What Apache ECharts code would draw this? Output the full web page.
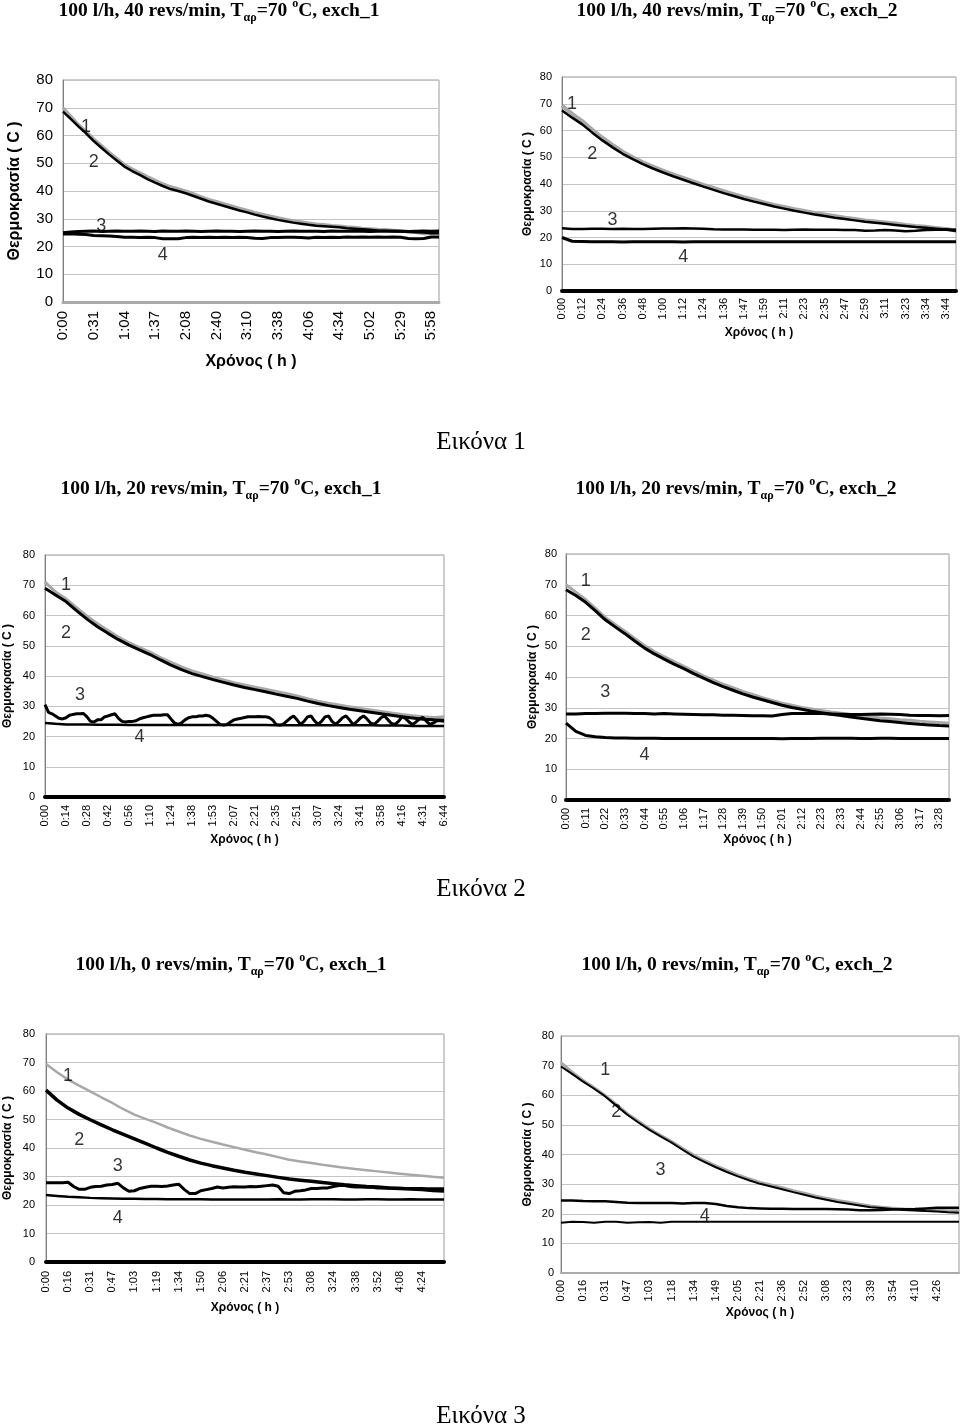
<!DOCTYPE html>
<html><head><meta charset="utf-8">
<script src="https://cdn.jsdelivr.net/npm/echarts@6/dist/echarts.min.js"></script>
<style>html,body{margin:0;padding:0;background:#fff}#c{width:960px;height:1427px}</style>
</head><body><div id="c"></div>
<script>
// ---------- DATA ----------
const ticks1 = ['0:00','0:31','1:04','1:37','2:08','2:40','3:10','3:38','4:06','4:34','5:02','5:29','5:58'];
const c1s1 = [70.0,67.0,64.0,61.5,58.8,56.4,54.0,51.8,49.5,48.0,46.6,45.2,43.9,42.6,41.6,40.8,40.0,39.0,38.0,37.0,36.2,35.4,34.6,33.8,33.1,32.3,31.6,31.0,30.4,29.8,29.3,28.9,28.5,28.1,27.9,27.6,27.4,27.1,26.9,26.6,26.4,26.2,26.1,25.9,25.7,25.4,25.0,24.6,24.6,24.8];
const c1s2 = [68.6,66.0,63.3,60.8,58.0,55.6,53.2,51.0,48.8,47.2,45.8,44.3,43.0,41.8,40.7,40.0,39.2,38.2,37.2,36.2,35.4,34.6,33.8,33.0,32.3,31.5,30.8,30.2,29.6,29.1,28.6,28.2,27.8,27.5,27.3,27.1,26.9,26.6,26.4,26.2,26.0,25.8,25.7,25.5,25.4,25.2,25.1,25.0,24.8,24.8];
const c1s3 = [25.0,25.2,25.4,25.5,25.6,25.4,25.5,25.6,25.5,25.5,25.6,25.5,25.4,25.6,25.5,25.5,25.6,25.5,25.4,25.5,25.6,25.5,25.5,25.4,25.5,25.6,25.5,25.5,25.4,25.5,25.6,25.5,25.5,25.5,25.4,25.6,25.5,25.5,25.6,25.5,25.4,25.5,25.5,25.6,25.5,25.4,25.5,25.6,25.5,25.6];
const c1s4 = [24.5,24.6,24.4,24.3,24.0,23.9,23.8,23.6,23.3,23.3,23.2,23.3,23.2,22.8,22.8,22.8,23.2,23.3,23.2,23.3,23.2,23.3,23.2,23.3,23.2,23.0,22.9,23.2,23.2,23.3,23.3,23.2,23.1,23.3,23.2,23.3,23.2,23.4,23.3,23.4,23.3,23.4,23.3,23.4,23.3,22.9,22.8,22.9,23.4,23.4];

const ticks2 = ['0:00','0:12','0:24','0:36','0:48','1:00','1:12','1:24','1:36','1:47','1:59','2:11','2:23','2:35','2:47','2:59','3:11','3:23','3:34','3:44'];
const c2s1 = [69.3,66.2,63.5,60.3,57.3,54.6,52.1,50.0,48.1,46.5,45.0,43.6,42.3,41.0,39.7,38.5,37.3,36.2,35.1,34.1,33.1,32.2,31.4,30.6,29.9,29.2,28.6,28.0,27.4,26.9,26.4,26.0,25.6,25.2,24.7,24.3,24.0,23.6,23.2,22.6];
const c2s2 = [67.5,64.8,62.3,59.2,56.3,53.7,51.3,49.3,47.4,45.8,44.3,42.9,41.6,40.3,39.0,37.8,36.6,35.5,34.4,33.4,32.5,31.6,30.8,30.0,29.3,28.6,28.0,27.4,26.9,26.4,25.9,25.5,25.1,24.7,24.3,23.9,23.6,23.3,23.0,22.4];
const c2s3 = [23.5,23.2,23.2,23.3,23.3,23.2,23.3,23.2,23.2,23.3,23.4,23.4,23.5,23.4,23.3,23.1,23.0,23.0,23.0,22.9,22.9,22.9,22.8,22.9,23.0,22.9,22.9,22.9,22.8,22.8,22.5,22.6,22.8,22.6,22.3,22.5,22.8,22.9,23.0,22.9];
const c2s4 = [20.0,18.6,18.5,18.4,18.4,18.4,18.3,18.4,18.4,18.4,18.4,18.4,18.3,18.4,18.4,18.4,18.4,18.4,18.4,18.4,18.4,18.4,18.4,18.4,18.4,18.4,18.4,18.4,18.4,18.4,18.4,18.4,18.4,18.4,18.4,18.4,18.4,18.4,18.4,18.4];

const ticks3 = ['0:00','0:14','0:28','0:42','0:56','1:10','1:24','1:38','1:53','2:07','2:21','2:35','2:51','3:07','3:24','3:41','3:58','4:16','4:31','6:44'];
const c3s1 = [71.0,67.8,65.5,62.6,59.8,57.3,55.0,52.9,51.0,49.4,47.9,46.1,44.5,43.0,41.7,40.7,39.6,38.7,37.8,37.0,36.3,35.6,34.9,34.2,33.4,32.5,31.7,31.0,30.4,29.8,29.3,28.8,28.3,27.8,27.3,26.9,26.5,26.3,26.5];
const c3s2 = [69.0,66.8,64.6,61.6,58.8,56.3,54.1,52.0,50.2,48.6,47.1,45.3,43.6,42.1,40.8,39.8,38.8,37.9,37.0,36.2,35.5,34.8,34.0,33.3,32.6,31.7,30.9,30.2,29.6,29.0,28.5,28.0,27.5,27.0,26.5,26.1,25.7,25.5,25.4];
const c3s3 = [30.5,28.0,27.5,26.8,26.0,25.8,26.2,27.0,27.3,27.5,
  27.5,27.6,26.5,25.0,24.8,25.5,25.5,26.5,26.8,27.2,
  27.5,26.0,25.0,24.8,25.0,25.0,25.2,25.8,26.2,26.5,
  26.8,27.0,27.0,27.0,27.2,27.2,25.8,24.5,24.0,24.5,
  25.5,26.2,26.5,26.5,26.8,26.8,27.0,26.8,26.0,25.0,
  24.0,23.8,24.0,24.8,25.5,25.8,26.0,26.3,26.5,26.5,
  26.5,26.6,26.5,26.5,26.3,25.5,24.0,23.8,24.0,25.0,
  26.0,26.8,25.5,24.0,25.0,26.5,26.8,25.2,24.0,25.0,
  26.5,26.8,25.0,24.0,25.0,26.2,26.8,25.5,24.0,24.8,
  26.0,26.8,25.8,24.5,24.0,25.0,26.2,26.8,25.5,24.3,
  24.0,25.0,26.5,26.0,24.8,24.0,24.8,25.8,26.3,25.0,
  24.0,24.5,25.2,25.2,25.0];
const c3s4 = [24.5,24.2,24.0,24.0,24.0,23.9,23.9,23.9,23.8,23.8,23.8,23.8,23.8,23.8,23.8,23.8,23.8,23.8,23.8,23.8,23.8,23.8,23.7,23.7,23.7,23.7,23.7,23.7,23.7,23.7,23.7,23.7,23.6,23.6,23.6,23.5,23.5,23.5,23.5];

const ticks4 = ['0:00','0:11','0:22','0:33','0:44','0:55','1:06','1:17','1:28','1:39','1:50','2:01','2:12','2:23','2:33','2:44','2:55','3:06','3:17','3:28'];
const c4s1 = [70.0,67.6,65.2,62.3,59.4,57.1,54.9,52.5,50.2,48.3,46.6,45.0,43.5,41.9,40.4,39.0,37.7,36.5,35.3,34.3,33.3,32.4,31.5,30.8,30.1,29.6,29.1,28.6,28.2,27.8,27.4,27.1,26.7,26.4,26.1,25.9,25.6,25.4,25.2,25.0];
const c4s2 = [68.4,66.5,64.3,61.5,58.6,56.3,54.1,51.7,49.4,47.5,45.8,44.2,42.7,41.1,39.6,38.2,36.9,35.7,34.5,33.5,32.6,31.7,30.8,30.1,29.5,28.9,28.4,27.9,27.5,27.0,26.6,26.2,25.8,25.5,25.2,24.9,24.6,24.4,24.2,24.1];
const c4s3 = [28.0,28.0,28.1,28.1,28.2,28.2,28.2,28.1,28.1,28.0,28.1,28.0,27.9,27.8,27.7,27.7,27.6,27.6,27.5,27.4,27.4,27.3,27.8,28.1,28.1,28.2,28.1,28.0,27.9,27.8,27.8,27.9,28.0,27.9,27.8,27.6,27.5,27.5,27.4,27.5];
const c4s4 = [25.0,22.3,21.0,20.6,20.3,20.2,20.2,20.1,20.1,20.1,20.0,20.0,20.0,20.0,20.0,20.0,20.0,20.0,20.0,20.0,20.0,20.0,19.9,20.0,20.0,20.0,20.1,20.1,20.1,20.1,20.0,20.0,20.1,20.1,20.0,20.0,20.0,20.0,20.0,20.0];

const ticks5 = ['0:00','0:16','0:31','0:47','1:03','1:19','1:34','1:50','2:06','2:21','2:37','2:53','3:08','3:24','3:38','3:52','4:08','4:24'];
const c5s1 = [69.5,66.6,64.0,61.9,59.9,57.8,55.8,53.6,51.7,50.2,48.8,47.2,45.8,44.4,43.2,42.2,41.2,40.3,39.4,38.5,37.7,36.8,35.9,35.3,34.7,34.1,33.6,33.1,32.6,32.2,31.8,31.4,31.0,30.6,30.3,29.9,29.6];
const c5s2 = [60.3,56.8,54.0,51.8,49.9,48.1,46.4,44.8,43.2,41.6,40.0,38.5,37.1,35.8,34.7,33.8,33.0,32.2,31.5,30.9,30.3,29.7,29.1,28.7,28.3,27.9,27.5,27.1,26.8,26.5,26.3,26.0,25.8,25.6,25.4,25.1,24.9];
const c5s3 = [27.8,27.8,27.8,27.8,28.0,26.5,25.5,25.5,26.2,26.5,
  26.6,27.0,27.2,27.6,26.0,24.8,25.0,25.8,26.2,26.6,
  26.6,26.5,26.7,27.0,27.3,25.5,24.0,24.0,25.0,25.4,
  25.8,26.3,26.0,26.2,26.4,26.3,26.3,26.5,26.4,26.6,
  26.8,27.0,26.6,24.3,24.0,24.8,25.0,25.3,25.8,25.8,
  26.0,26.0,26.5,26.8,26.8,26.5,26.3,26.3,26.2,26.2,
  26.0,26.0,26.0,25.9,25.9,25.8,25.8,25.8,25.8,25.7,
  25.7,25.7,25.7];
const c5s4 = [23.5,23.2,22.9,22.7,22.5,22.4,22.3,22.2,22.2,22.1,22.1,22.0,22.0,22.0,22.0,21.9,21.9,21.9,21.9,21.9,21.9,22.0,21.9,21.9,22.0,22.0,22.0,21.9,21.9,22.0,22.0,21.9,21.9,22.0,21.9,21.9,21.9];

const ticks6 = ['0:00','0:16','0:31','0:47','1:03','1:18','1:34','1:49','2:05','2:21','2:36','2:52','3:08','3:23','3:39','3:54','4:10','4:26'];
const c6s1 = [71.0,67.8,65.0,62.5,59.9,56.9,53.8,51.2,48.7,46.5,44.4,42.0,39.8,37.9,36.2,34.6,33.1,31.8,30.6,29.7,28.8,27.8,26.9,26.0,25.2,24.5,23.9,23.2,22.6,22.2,21.9,21.6,21.4,21.3,21.2,21.0,21.0];
const c6s2 = [69.7,67.2,64.6,62.2,59.6,56.5,53.4,50.8,48.3,46.1,44.0,41.6,39.3,37.4,35.7,34.1,32.6,31.3,30.1,29.2,28.3,27.3,26.4,25.5,24.7,24.0,23.4,22.8,22.2,21.9,21.6,21.3,21.1,20.9,20.8,20.5,20.3];
const c6s3 = [24.5,24.5,24.3,24.2,24.2,24.0,23.7,23.6,23.6,23.6,23.6,23.5,23.6,23.6,23.3,22.6,22.2,21.9,21.8,21.7,21.7,21.6,21.6,21.6,21.6,21.5,21.4,21.2,21.2,21.3,21.4,21.5,21.6,21.8,22.0,22.0,22.0];
const c6s4 = [17.0,17.3,17.2,17.0,17.3,17.3,17.0,17.1,17.2,17.0,17.3,17.3,17.3,17.3,17.3,17.3,17.3,17.3,17.3,17.3,17.3,17.3,17.3,17.3,17.3,17.3,17.3,17.3,17.3,17.3,17.3,17.3,17.3,17.3,17.3,17.3,17.3];

const yTicks = [0,10,20,30,40,50,60,70,80];
const seriesNames = ['1','2','3','4'];

// ---------- HELPERS ----------
function toMin(s){const p=s.split(':').map(Number);return p[0]*60+p[1];}
function fmt(t){return Math.floor(t/60)+':'+String(t%60).padStart(2,'0');}
function buildCats(ticks,k,extra){
  const out=[];
  for(let i=0;i<ticks.length;i++){
    out.push(ticks[i]);
    if(i<ticks.length-1){const a=toMin(ticks[i]),b=toMin(ticks[i+1]);
      for(let j=1;j<k;j++) out.push(fmt(Math.round(a+(b-a)*j/k)));}
  }
  const n=ticks.length,a=toMin(ticks[n-2]),b=toMin(ticks[n-1]);
  for(let j=1;j<=extra;j++) out.push(fmt(Math.round(b+(b-a)*j/k)));
  return out;
}
function pts(vals,step){return vals.map((v,i)=>[i*step,v]);}

const SANS='Liberation Sans', SERIF='Liberation Serif';
const GRAY='#a8a8a8';

const panels = [
  {ticks:ticks1,k:4,extra:1,data:[c1s1,c1s2,c1s3,c1s4],steps:[1,1,1,1],widths:[3,2.5,3,3],
   grid:{left:63,top:80,width:376,height:222},fs:15,ns:16,xGap:52,yGap:40,xMargin:9,yMargin:10,
   axisCol:'#aaaaaa',axisW:3,lab:[[3,63.2],[4,50.6],[5,27.2],[13,17.0]],
   title:'40 revs/min',exch:'1',tx:219,ty:11},
  {ticks:ticks2,k:2,extra:1,data:[c2s1,c2s2,c2s3,c2s4],steps:[1,1,1,1],widths:[4,2.5,2.5,3],
   grid:{left:562,top:77,width:394,height:214},fs:11,ns:12,xGap:36,yGap:28,xMargin:7,yMargin:10,
   axisCol:'#000',axisW:4,lab:[[1,69.8],[3,51.1],[5,26.4],[12,12.7]],
   title:'40 revs/min',exch:'2',tx:737,ty:11},
  {ticks:ticks3,k:6,extra:0,data:[c3s1,c3s2,c3s3,c3s4],steps:[3,3,1,3],widths:[3,3,3,2.5],
   grid:{left:45,top:555,width:399,height:242},fs:11,ns:12,xGap:37,yGap:31,xMargin:8,yMargin:10,
   axisCol:'#000',axisW:4,lab:[[6,70.1],[6,54.3],[10,33.7],[27,19.9]],
   title:'20 revs/min',exch:'1',tx:221,ty:489},
  {ticks:ticks4,k:2,extra:1,data:[c4s1,c4s2,c4s3,c4s4],steps:[1,1,1,1],widths:[3,3,3,3],
   grid:{left:566,top:554,width:383,height:246},fs:11,ns:12,xGap:34,yGap:27,xMargin:8,yMargin:9,
   axisCol:'#000',axisW:4,lab:[[2,71.1],[2,53.7],[4,35.0],[8,14.7]],
   title:'20 revs/min',exch:'2',tx:736,ty:489},
  {ticks:ticks5,k:4,extra:4,data:[c5s1,c5s2,c5s3,c5s4],steps:[2,2,1,2],widths:[2.5,3.5,3,2.5],
   grid:{left:46,top:1034,width:398,height:228},fs:11,ns:12,xGap:40,yGap:32,xMargin:9,yMargin:11,
   axisCol:'#000',axisW:4,lab:[[4,65.1],[6,42.7],[13,33.6],[13,15.4]],
   title:'0 revs/min',exch:'1',tx:231,ty:965},
  {ticks:ticks6,k:2,extra:2,data:[c6s1,c6s2,c6s3,c6s4],steps:[1,1,1,1],widths:[3,2,2.5,2],
   grid:{left:561,top:1036,width:398,height:237},fs:11,ns:12,xGap:34,yGap:27,xMargin:7,yMargin:7,
   axisCol:'#aaaaaa',axisW:2,lab:[[4,68.5],[5,54.5],[9,34.8],[13,19.1]],
   title:'0 revs/min',exch:'2',tx:737,ty:965}
];

const option = {animation:false,backgroundColor:'#fff',grid:[],xAxis:[],yAxis:[],series:[],graphic:[]};
const titleRich = {
  b:{fontFamily:SERIF,fontWeight:'bold',fontSize:19.5,lineHeight:26,color:'#000'},
  sub:{fontFamily:SERIF,fontWeight:'bold',fontSize:12,lineHeight:12,verticalAlign:'bottom',color:'#000'},
  sup:{fontFamily:SERIF,fontWeight:'bold',fontSize:12,lineHeight:12,verticalAlign:'top',color:'#000'}
};

panels.forEach((p,gi)=>{
  const cats = buildCats(p.ticks,p.k,p.extra);
  const lastTick = (p.ticks.length-1)*p.k;
  option.grid.push(Object.assign({show:true,borderColor:'#9a9a9a',borderWidth:1,backgroundColor:'transparent'},p.grid));
  option.xAxis.push({type:'category',gridIndex:gi,data:cats,boundaryGap:false,
    name:'Χρόνος ( h )',nameLocation:'middle',nameGap:p.xGap,
    nameTextStyle:{fontFamily:SANS,fontWeight:'bold',fontSize:p.ns,color:'#000'},
    axisLine:{show:true,onZero:false,lineStyle:{color:p.axisCol,width:p.axisW}},
    axisTick:{show:false},
    axisLabel:{interval:(idx)=>idx%p.k===0 && idx<=lastTick,rotate:90,margin:p.xMargin,fontFamily:SANS,fontSize:p.fs,color:'#000'},
    splitLine:{show:false}});
  option.yAxis.push({type:'value',gridIndex:gi,min:yTicks[0],max:yTicks[yTicks.length-1],interval:yTicks[1]-yTicks[0],
    name:'Θερμοκρασία ( C )',nameLocation:'middle',nameGap:p.yGap,
    nameTextStyle:{fontFamily:SANS,fontWeight:'bold',fontSize:p.ns,color:'#000'},
    axisLine:{show:true,lineStyle:{color:'#808080',width:1}},
    axisTick:{show:false},
    axisLabel:{margin:p.yMargin,fontFamily:SANS,fontSize:p.fs,color:'#000'},
    splitLine:{show:true,lineStyle:{color:'#c4c4c4',width:1}}});
  p.data.forEach((arr,si)=>{
    option.series.push({type:'line',name:seriesNames[si],xAxisIndex:gi,yAxisIndex:gi,
      data:pts(arr,p.steps[si]),showSymbol:false,symbol:'none',
      lineStyle:{color:si===0?GRAY:'#000',width:p.widths[si]},z:si===0?2:3});
  });
  option.series.push({type:'scatter',xAxisIndex:gi,yAxisIndex:gi,symbolSize:1,
    itemStyle:{color:'rgba(0,0,0,0)'},z:5,
    data:p.lab.map((c,i)=>({value:c,name:seriesNames[i]})),
    label:{show:true,position:'inside',formatter:d=>d.name,fontFamily:SANS,fontSize:18,color:'#000'}});
  option.graphic.push({type:'text',x:p.tx,y:p.ty,z:10,
    style:{text:'{b|100 l/h, '+p.title+', T}{sub|αρ}{b|=70 }{sup|o}{b|C, exch_'+p.exch+'}',
      rich:titleRich,align:'center',verticalAlign:'middle'}});
});
[['Εικόνα 1',481,442],['Εικόνα 2',481,889],['Εικόνα 3',481,1416]].forEach(c=>{
  option.graphic.push({type:'text',x:c[1],y:c[2],z:10,
    style:{text:c[0],fontFamily:SERIF,fontSize:25,fill:'#000',align:'center',verticalAlign:'middle'}});
});

const chart = echarts.init(document.getElementById('c'),null,{renderer:'canvas'});
chart.setOption(option);
</script>
</body></html>
